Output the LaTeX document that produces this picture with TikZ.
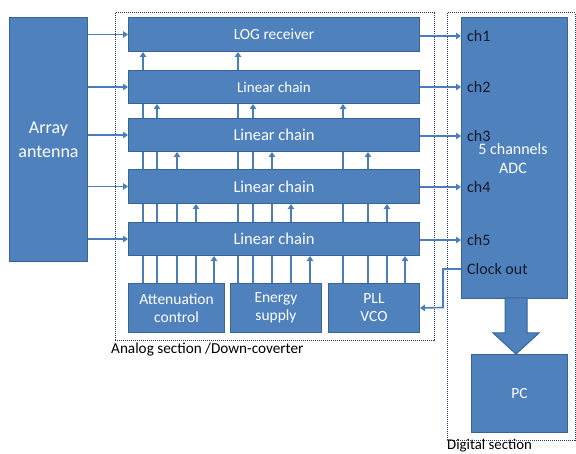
\documentclass[tikz,border=0pt]{standalone}
\usepackage{fontspec}
\setmainfont{Carlito}
\usetikzlibrary{arrows.meta,backgrounds,calc}
\definecolor{bfill}{HTML}{4F81BD}
\definecolor{bdraw}{HTML}{3A6496}
\definecolor{arrc}{HTML}{4A7EBB}
\definecolor{dotc}{HTML}{1F3864}
\definecolor{darktxt}{HTML}{141A2A}
\begin{document}
\begin{tikzpicture}[x=1pt,y=-1pt,
  box/.style={draw=bdraw,fill=bfill,line width=1pt,inner sep=0pt,anchor=north west,text=white,align=center,font=\fontsize{16.5}{19}\selectfont},
  arr/.style={draw=arrc,line width=1.6pt,-{Triangle[width=6.5pt,length=5pt]}},
  sect/.style={draw=dotc,densely dotted,line width=1pt},
  lab/.style={text=black,font=\fontsize{15.2}{17}\selectfont,anchor=west,inner sep=0pt},
  chl/.style={text=darktxt,font=\fontsize{16}{18}\selectfont,anchor=west,inner sep=0pt}]
\useasboundingbox (0,0) rectangle (576,454);
\begin{pgfonlayer}{background}
\fill[white] (0,0) rectangle (576,454);
\end{pgfonlayer}
% section frames
\draw[sect] (115,13) rectangle (434,341);
\draw[sect] (447,13) rectangle (575,440);
\node[lab] (alab) at (111,350) {Analog section /Down-coverter};
\node[lab,font=\fontsize{14.8}{17}\selectfont] (dlab) at (447,446) {Digital section};
% boxes
\node[box,minimum width=78pt,minimum height=244pt,font=\fontsize{18}{24}\selectfont] (ant) at (9,17) {Array\\antenna};
\node[box,minimum width=291pt,minimum height=34pt,font=\fontsize{15.5}{18}\selectfont] (log) at (128,17) {LOG receiver};
\node[box,minimum width=291pt,minimum height=33pt,font=\fontsize{15}{18}\selectfont] (c2) at (128,70) {Linear chain};
\node[box,minimum width=291pt,minimum height=33pt] (c3) at (128,118) {Linear chain};
\node[box,minimum width=291pt,minimum height=34pt] (c4) at (128,169) {Linear chain};
\node[box,minimum width=291pt,minimum height=33pt] (c5) at (128,222) {Linear chain};
\node[box,minimum width=96pt,minimum height=49pt,font=\fontsize{15.5}{18}\selectfont] (att) at (128,283) {Attenuation\\control};
\node[box,minimum width=91pt,minimum height=49pt,font=\fontsize{15.5}{18}\selectfont] (eng) at (230,283) {Energy\\supply};
\node[box,minimum width=91pt,minimum height=49pt,font=\fontsize{15.5}{18}\selectfont] (pll) at (328,283) {PLL\\VCO};
\node[box,minimum width=106pt,minimum height=281pt] (adc) at (461,17) {};
\node[box,minimum width=96pt,minimum height=78pt,font=\fontsize{15.5}{18}\selectfont] (pc) at (471,354) {PC};
\node[text=white,align=center,font=\fontsize{16}{19}\selectfont,inner sep=0pt] (adcl) at (513,159) {5 channels\\ADC};
% channel labels
\node[chl] (ch1) at (467,36) {ch1};
\node[chl] (ch2) at (467,87) {ch2};
\node[chl] (ch3) at (467,136) {ch3};
\node[chl] (ch4) at (467,187) {ch4};
\node[chl] (ch5) at (467,240) {ch5};
\node[chl] (clk) at (467,269) {Clock out};
% antenna inputs
\draw[arr] (ant.east |- log.center) -- (log.west);
\draw[arr] (ant.east |- c2.center) -- (c2.west);
\draw[arr] (ant.east |- c3.center) -- (c3.west);
\draw[arr] (ant.east |- c4.center) -- (c4.west);
\draw[arr] (ant.east |- c5.center) -- (c5.west);
% outputs to ADC
\draw[arr] (log.east |- ch1.west) -- (adc.west |- ch1.west);
\draw[arr] (c2.east |- ch2.west) -- (adc.west |- ch2.west);
\draw[arr] (c3.east |- ch3.west) -- (adc.west |- ch3.west);
\draw[arr] (c4.east |- ch4.west) -- (adc.west |- ch4.west);
\draw[arr] (c5.east |- ch5.west) -- (adc.west |- ch5.west);
% clock out
\coordinate (bend) at (443,307.5);
\draw[arr] (adc.west |- clk.west) -| (bend) -- (pll.east);
% big arrow ADC -> PC
\draw[draw=bdraw,fill=bfill,line width=1pt] (505,298) -- (527,298) -- (527,333) -- (539,333) -- (516,354) -- (493,333) -- (505,333) -- cycle;
% vertical feed lines
\coordinate (a1) at (143,0); \coordinate (a2) at (157,0); \coordinate (a3) at (177,0); \coordinate (a4) at (196,0); \coordinate (a5) at (214,0);
\coordinate (e1) at (238,0); \coordinate (e2) at (253,0); \coordinate (e3) at (272,0); \coordinate (e4) at (291,0); \coordinate (e5) at (310,0);
\coordinate (p2) at (343,0); \coordinate (p3) at (368,0); \coordinate (p4) at (387,0); \coordinate (p5) at (405,0);
\begin{pgfonlayer}{background}
\draw[arr] (att.north -| a1) -- (log.south -| a1);
\draw[arr] (att.north -| a2) -- (c2.south -| a2);
\draw[arr] (att.north -| a3) -- (c3.south -| a3);
\draw[arr] (att.north -| a4) -- (c4.south -| a4);
\draw[arr] (att.north -| a5) -- (c5.south -| a5);
\draw[arr] (eng.north -| e1) -- (log.south -| e1);
\draw[arr] (eng.north -| e2) -- (c2.south -| e2);
\draw[arr] (eng.north -| e3) -- (c3.south -| e3);
\draw[arr] (eng.north -| e4) -- (c4.south -| e4);
\draw[arr] (eng.north -| e5) -- (c5.south -| e5);
\draw[arr] (pll.north -| p2) -- (c2.south -| p2);
\draw[arr] (pll.north -| p3) -- (c3.south -| p3);
\draw[arr] (pll.north -| p4) -- (c4.south -| p4);
\draw[arr] (pll.north -| p5) -- (c5.south -| p5);
\end{pgfonlayer}
\end{tikzpicture}
\end{document}
